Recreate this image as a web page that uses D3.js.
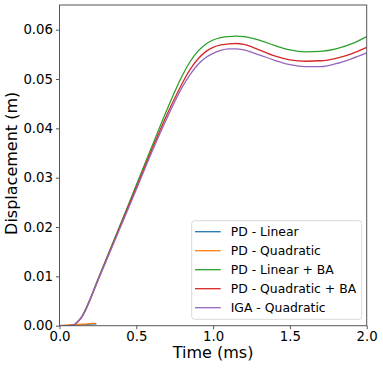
<!DOCTYPE html>
<html lang="en">
<head>
    <meta charset="UTF-8">
    <title>Displacement vs Time</title>
    <script src="https://cdn.jsdelivr.net/npm/d3@7"></script>
    <style>
        body { margin: 0; background: #fff; }
        text { font-family: "DejaVu Sans", sans-serif; fill: #000; }
    </style>
</head>
<body>
    <svg id="chart" width="383" height="371"></svg>

    <script type="text/javascript">
        // time grid (ms) shared by the three long runs
        const timeMs = [0, 0.05, 0.075, 0.1, 0.125, 0.15, 0.175, 0.2, 0.25, 0.3, 0.4, 0.5, 0.6, 0.7, 0.75, 0.8,
          0.85, 0.9, 0.95, 1.0, 1.05, 1.1, 1.15, 1.2, 1.3, 1.4, 1.5, 1.6, 1.7, 1.8, 1.9, 2.0];

        const linearBA = [0, 0, 0.00005, 0.0003, 0.0010, 0.0021, 0.0037, 0.0055, 0.0094, 0.0132, 0.0208, 0.0285,
          0.0362, 0.0438, 0.0474, 0.0507, 0.0535, 0.0556, 0.0570, 0.0579, 0.0584, 0.0586, 0.0587, 0.0586,
          0.0579, 0.0568, 0.0559, 0.0555, 0.0556, 0.0561, 0.0571, 0.0586];

        const quadraticBA = [0, 0, 0.00005, 0.0003, 0.0010, 0.0020, 0.0035, 0.0053, 0.0092, 0.0130, 0.0205, 0.0280,
          0.0356, 0.0428, 0.0461, 0.0492, 0.0519, 0.0540, 0.0555, 0.0564, 0.0569, 0.0571, 0.0572, 0.0570,
          0.0559, 0.0547, 0.0539, 0.0536, 0.0537, 0.0542, 0.0551, 0.0564];

        const igaQuadratic = [0, 0, 0.00005, 0.0003, 0.0010, 0.0020, 0.0035, 0.0053, 0.0091, 0.0128, 0.0202, 0.0276,
          0.0351, 0.0421, 0.0454, 0.0484, 0.0509, 0.0529, 0.0543, 0.0552, 0.0558, 0.0561, 0.0561, 0.0559,
          0.0549, 0.0538, 0.0529, 0.0525, 0.0525, 0.0531, 0.0541, 0.0553];

        // the two plain PD runs stop early
        const linearTime = [0, 0.05, 0.1, 0.15, 0.2, 0.24];
        const linearVals = [0, 0.00005, 0.0001, 0.0002, 0.0003, 0.0004];
        const quadTime = [0, 0.05, 0.1, 0.15, 0.2, 0.23];
        const quadVals = [0, 0.0001, 0.0002, 0.0003, 0.0004, 0.0005];

        const labels = ["PD - Linear", "PD - Quadratic", "PD - Linear + BA", "PD - Quadratic + BA", "IGA - Quadratic"];
        const colors = ["#1f77b4", "#ff7f0e", "#2ca02c", "#d62728", "#9467bd"];

        const xTicks = [0, 0.5, 1.0, 1.5, 2.0];
        const yTicks = [0, 0.01, 0.02, 0.03, 0.04, 0.05, 0.06];

        const series = [
          { t: linearTime, v: linearVals },
          { t: quadTime, v: quadVals },
          { t: timeMs, v: linearBA },
          { t: timeMs, v: quadraticBA },
          { t: timeMs, v: igaQuadratic }
        ];

        const svg = d3.select("#chart");
        const margin = { top: 5, right: 16.3, bottom: 45.3, left: 59.5 };
        const width = +svg.attr("width");
        const height = +svg.attr("height");

        const x = d3.scaleLinear()
          .domain([0, 2])
          .range([margin.left, width - margin.right]);

        const y = d3.scaleLinear()
          .domain([0, 0.065])
          .range([height - margin.bottom, margin.top]);

        const line = d3.line()
          .x(d => x(d[0]))
          .y(d => y(d[1]))
          .curve(d3.curveMonotoneX);

        // clip lines to the axes box
        svg.append("clipPath").attr("id", "clip")
          .append("rect")
          .attr("x", x(0)).attr("y", y(0.065))
          .attr("width", x(2) - x(0)).attr("height", y(0) - y(0.065));

        const plot = svg.append("g").attr("clip-path", "url(#clip)");
        series.forEach((s, i) => {
          plot.append("path")
            .datum(s.t.map((t, k) => [t, s.v[k]]))
            .attr("fill", "none")
            .attr("stroke", colors[i])
            .attr("stroke-width", 1.3)
            .attr("d", line);
        });

        // axes
        const xAxis = svg.append("g")
          .attr("transform", `translate(0,${y(0)})`)
          .call(d3.axisBottom(x).tickValues(xTicks).tickFormat(d3.format(".1f")).tickSize(3.5).tickPadding(2));

        const yAxis = svg.append("g")
          .attr("transform", `translate(${x(0)},0)`)
          .call(d3.axisLeft(y).tickValues(yTicks).tickFormat(d3.format(".2f")).tickSize(3.5).tickPadding(3));

        [xAxis, yAxis].forEach(g => {
          g.select(".domain").remove();
          g.selectAll("line").attr("stroke", "#555");
          g.selectAll("text")
            .style("font-family", "DejaVu Sans")
            .style("font-size", "13.3px")
            .attr("fill", "#000");
        });

        // frame
        svg.append("rect")
          .attr("x", x(0)).attr("y", y(0.065))
          .attr("width", x(2) - x(0)).attr("height", y(0) - y(0.065))
          .attr("fill", "none")
          .attr("stroke", "#555")
          .attr("stroke-width", 1);

        svg.append("text")
          .attr("x", (x(0) + x(2)) / 2)
          .attr("y", 358)
          .attr("text-anchor", "middle")
          .style("font-size", "16px")
          .text("Time (ms)");

        svg.append("text")
          .attr("transform", `translate(17,${(y(0) + y(0.065)) / 2 - 2}) rotate(-90)`)
          .attr("text-anchor", "middle")
          .style("font-size", "16px")
          .text("Displacement (m)");

        // legend
        const legend = svg.append("g").attr("transform", "translate(191.7,220.7)");
        legend.append("rect")
          .attr("width", 170)
          .attr("height", 98.6)
          .attr("rx", 3)
          .attr("fill", "#fff")
          .attr("fill-opacity", 0.8)
          .attr("stroke", "#d9d9d9")
          .attr("stroke-width", 1);

        labels.forEach((name, i) => {
          const row = legend.append("g").attr("transform", `translate(0,${11 + i * 19})`);
          row.append("line")
            .attr("x1", 3.3).attr("x2", 29)
            .attr("stroke", colors[i])
            .attr("stroke-width", 1.3);
          row.append("text")
            .attr("x", 39)
            .attr("dy", "0.35em")
            .style("font-size", "12.4px")
            .text(name);
        });
    </script>
</body>
</html>
